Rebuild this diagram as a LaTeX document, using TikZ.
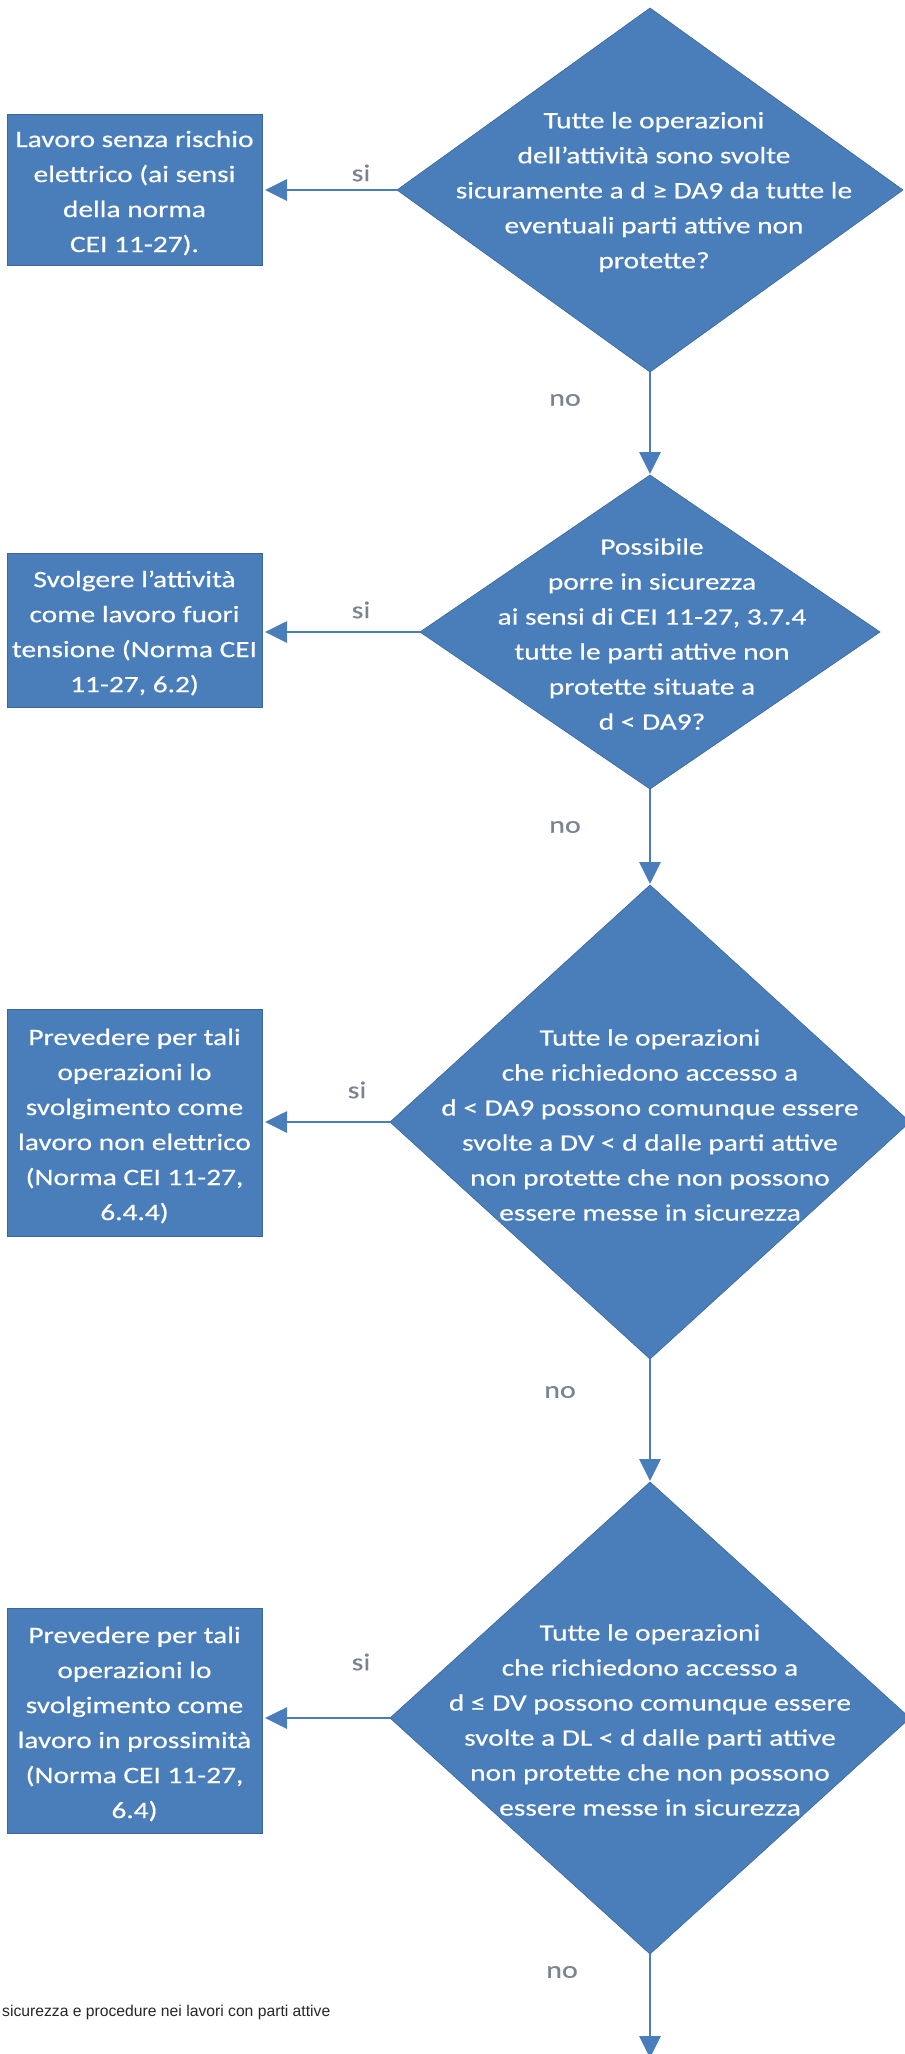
\documentclass[tikz,border=0pt]{standalone}
\usepackage{fontspec}
\setmainfont{Carlito}[FakeStretch=1.25,FakeBold=0.5]
\newfontfamily\capfont{Liberation Sans}
\usetikzlibrary{shapes.geometric,arrows.meta}
\definecolor{boxblue}{HTML}{4A7EBB}
\definecolor{edgeblue}{HTML}{3A6796}
\definecolor{lineblue}{HTML}{4A7EBB}
\definecolor{labgray}{HTML}{7A8490}
\begin{document}
\begin{tikzpicture}[x=1pt,y=-1pt,
  dec/.style={diamond, fill=boxblue, draw=edgeblue, line width=0.6pt, inner sep=0pt, outer sep=0pt},
  res/.style={rectangle, fill=boxblue, draw=edgeblue, line width=0.8pt, minimum width=255pt, inner sep=0pt, outer sep=0pt},
  txt/.style={text=white, align=center, font=\fontsize{23.5}{35}\selectfont, inner sep=0pt},
  lab/.style={text=labgray, font=\fontsize{24}{30}\selectfont, inner sep=0pt},
  arr/.style={draw=lineblue, line width=2.8pt, -{Triangle[length=22pt,width=21pt]}},
]
\useasboundingbox (0,0) rectangle (905,2054);

% decisions
\node[dec, minimum width=506pt, minimum height=364pt] (d1) at (650,190) {};
\node[dec, minimum width=460pt, minimum height=314pt] (d2) at (650,632) {};
\node[dec, minimum width=520pt, minimum height=474pt] (d3) at (650,1122) {};
\node[dec, minimum width=520pt, minimum height=472pt] (d4) at (650,1718) {};

\node[txt] (t1) at (654,192) {Tutte le operazioni\\dell’attività sono svolte\\sicuramente a d ≥ DA9 da tutte le\\eventuali parti attive non\\protette?};
\node[txt] (t2) at (652,634) {Possibile\\porre in sicurezza\\ai sensi di CEI 11-27, 3.7.4\\tutte le parti attive non\\protette situate a\\d < DA9?};
\node[txt] (t3) at (650,1125) {Tutte le operazioni\\che richiedono accesso a\\d < DA9 possono comunque essere\\svolte a DV < d dalle parti attive\\non protette che non possono\\essere messe in sicurezza};
\node[txt] (t4) at (650,1720) {Tutte le operazioni\\che richiedono accesso a\\d ≤ DV possono comunque essere\\svolte a DL < d dalle parti attive\\non protette che non possono\\essere messe in sicurezza};

% results
\node[res, minimum height=151pt] (b1) at (134.5,189.5) {};
\node[res, minimum height=154pt] (b2) at (134.5,630) {};
\node[res, minimum height=227pt] (b3) at (134.5,1123) {};
\node[res, minimum height=225pt] (b4) at (134.5,1721) {};

\node[txt] (bt1) at (134.5,193) {Lavoro senza rischio\\elettrico (ai sensi\\della norma\\CEI 11-27).};
\node[txt] (bt2) at (134.5,633) {Svolgere l’attività\\come lavoro fuori\\tensione (Norma CEI\\11-27, 6.2)};
\node[txt] (bt3) at (134.5,1126) {Prevedere per tali\\operazioni lo\\svolgimento come\\lavoro non elettrico\\(Norma CEI 11-27,\\6.4.4)};
\node[txt] (bt4) at (134.5,1724) {Prevedere per tali\\operazioni lo\\svolgimento come\\lavoro in prossimità\\(Norma CEI 11-27,\\6.4)};

% connectors
\draw[arr, shorten >=3pt] (d1.west) -- (d1.west -| b1.east);
\draw[arr, shorten >=3pt] (d2.west) -- (d2.west -| b2.east);
\draw[arr, shorten >=3pt] (d3.west) -- (d3.west -| b3.east);
\draw[arr, shorten >=3pt] (d4.west) -- (d4.west -| b4.east);

\draw[arr, shorten >=1pt] (d1.south) -- (d2.north);
\draw[arr, shorten >=1pt] (d2.south) -- (d3.north);
\draw[arr, shorten >=1pt] (d3.south) -- (d4.north);
\coordinate (end) at (650,2058);
\draw[arr] (d4.south) -- (end);

% labels
\node[lab] (si1) at (361,173) {si};
\node[lab] (si2) at (361,610) {si};
\node[lab] (si3) at (357,1090) {si};
\node[lab] (si4) at (361,1662) {si};
\node[lab] (no1) at (565,400) {no};
\node[lab] (no2) at (565,827) {no};
\node[lab] (no3) at (560,1392) {no};
\node[lab] (no4) at (562,1972) {no};

% caption
\node[anchor=west, inner sep=0pt, font=\capfont\fontsize{15.7}{18}\selectfont, text=black!85] (cap) at (2,2012) {sicurezza e procedure nei lavori con parti attive};
\end{tikzpicture}
\end{document}
